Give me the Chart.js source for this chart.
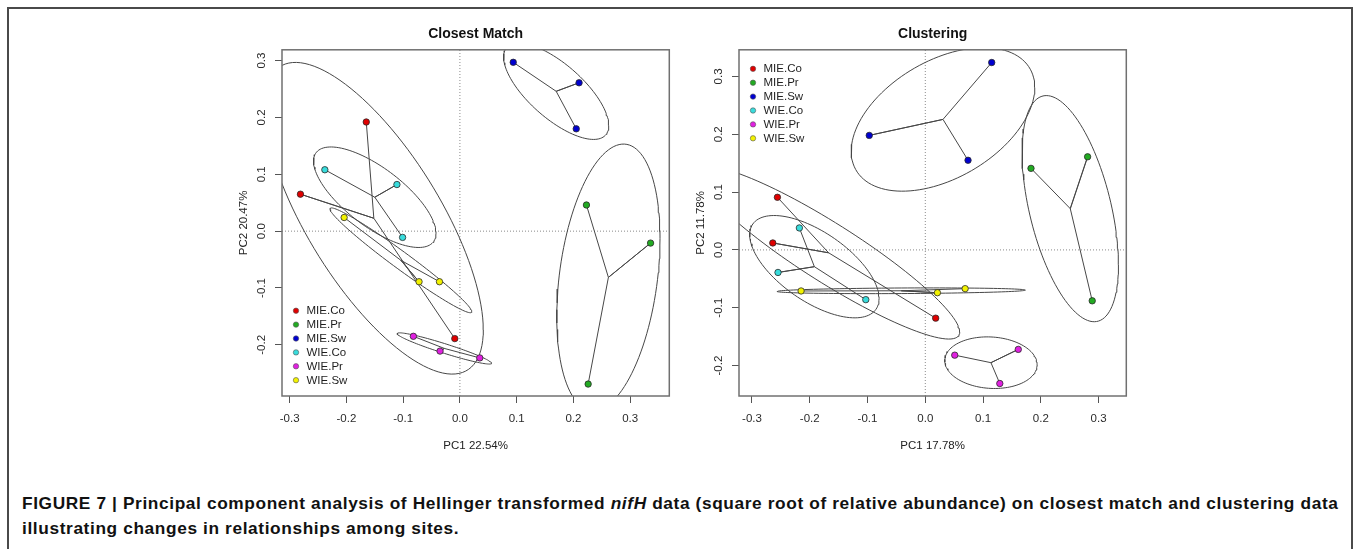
<!DOCTYPE html>
<html>
<head>
<meta charset="utf-8">
<script src="https://cdn.jsdelivr.net/npm/chart.js@4.4.1/dist/chart.umd.min.js"></script>
<style>
  html, body { margin: 0; padding: 0; background: #fff; }
  body { width: 1356px; height: 549px; position: relative; overflow: hidden; font-family: "Liberation Sans", Arial, sans-serif; }
  #frame { position: absolute; left: 7px; top: 7px; width: 1342px; height: 600px; border: 2px solid #4a4a4a; }
  .panel { position: absolute; top: 0; }
  #caption { position: absolute; left: 22px; top: 491px; font-size: 17.3px; letter-spacing: 0.62px; line-height: 25px; font-weight: bold; color: #111; white-space: nowrap; }
</style>
</head>
<body>
<div id="frame"></div>
<canvas id="closestChart" class="panel" style="left:200px" width="490" height="470"></canvas>
<canvas id="clusterChart" class="panel" style="left:657px" width="490" height="470"></canvas>
<div id="caption">FIGURE 7 | Principal component analysis of Hellinger transformed <i>nifH</i> data (square root of relative abundance) on closest match and clustering data<br>illustrating changes in relationships among sites.</div>

<script>
// sites grouped by habitat, three replicates each
const groups = ['MIE.Co', 'MIE.Pr', 'MIE.Sw', 'WIE.Co', 'WIE.Pr', 'WIE.Sw'];
const groupColors = ['#e00000', '#22aa22', '#0000d0', '#38dcdc', '#e020e0', '#f2f200'];

// Closest Match ordination scores
const closestPC1 = [
    [-0.165, -0.281, -0.009],
    [0.223, 0.336, 0.226],
    [0.094, 0.210, 0.205],
    [-0.238, -0.111, -0.101],
    [-0.082, -0.035, 0.035],
    [-0.204, -0.072, -0.036]
];
const closestPC2 = [
    [0.192, 0.065, -0.189],
    [0.046, -0.021, -0.269],
    [0.297, 0.261, 0.180],
    [0.108, 0.082, -0.011],
    [-0.185, -0.211, -0.223],
    [0.024, -0.089, -0.089]
];

// Clustering ordination scores
const clusterPC1 = [
    [-0.256, -0.264, 0.018],
    [0.183, 0.281, 0.289],
    [0.115, -0.097, 0.074],
    [-0.218, -0.255, -0.103],
    [0.051, 0.161, 0.129],
    [-0.215, 0.021, 0.069]
];
const clusterPC2 = [
    [0.091, 0.012, -0.118],
    [0.141, 0.161, -0.088],
    [0.324, 0.198, 0.155],
    [0.038, -0.039, -0.086],
    [-0.182, -0.172, -0.231],
    [-0.071, -0.074, -0.067]
];

const xTicks = [-0.3, -0.2, -0.1, 0.0, 0.1, 0.2, 0.3];
const closestYTicks = [-0.2, -0.1, 0.0, 0.1, 0.2, 0.3];
const clusterYTicks = [-0.2, -0.1, 0.0, 0.1, 0.2, 0.3];

const CHI2_95 = 5.991; // 95% quantile, chi-square with 2 df
const lineGray = '#474747';

function mean(a) {
    return a.reduce((s, v) => s + v, 0) / a.length;
}

// standard error ellipse (95%) of one group, like vegan::ordiellipse(kind = "se", conf = 0.95)
function seEllipse(xs, ys) {
    const n = xs.length;
    const mx = mean(xs), my = mean(ys);
    let sxx = 0, syy = 0, sxy = 0;
    for (let i = 0; i < n; i++) {
        sxx += (xs[i] - mx) * (xs[i] - mx);
        syy += (ys[i] - my) * (ys[i] - my);
        sxy += (xs[i] - mx) * (ys[i] - my);
    }
    sxx /= (n - 1); syy /= (n - 1); sxy /= (n - 1);
    const k = Math.sqrt(CHI2_95 / n);
    const l11 = Math.sqrt(sxx);
    const l21 = sxy / l11;
    const l22 = Math.sqrt(Math.max(syy - l21 * l21, 0));
    const out = [];
    for (let t = 0; t <= 120; t++) {
        const a = t / 120 * 2 * Math.PI;
        const u = Math.cos(a), v = Math.sin(a);
        out.push({ x: mx + k * l11 * u, y: my + k * (l21 * u + l22 * v) });
    }
    return out;
}

function buildDatasets(pc1, pc2, xr, yr) {
    const ds = [];
    groups.forEach((g, i) => {
        const pts = pc1[i].map((x, j) => ({ x: x, y: pc2[i][j] }));
        const c = { x: mean(pc1[i]), y: mean(pc2[i]) };
        const spider = [];
        pts.forEach((p, j) => {
            if (j > 0) spider.push(c);
            spider.push(p);
        });
        ds.push({
            label: g, data: pts, order: 0,
            pointRadius: 3.2, pointBackgroundColor: groupColors[i],
            pointBorderColor: '#2a2a2a', pointBorderWidth: 0.8
        });
        ds.push({
            label: g + ' spider', data: spider, order: 1, showLine: true, clip: 0,
            borderColor: lineGray, borderWidth: 1, pointRadius: 0, fill: false
        });
        ds.push({
            label: g + ' ellipse', data: seEllipse(pc1[i], pc2[i]), order: 2, showLine: true, clip: 0,
            borderColor: lineGray, borderWidth: 1, pointRadius: 0, fill: false
        });
    });
    // dotted reference lines through the origin
    ds.push({
        label: 'h0', data: [{ x: xr[0], y: 0 }, { x: xr[1], y: 0 }], order: 3, showLine: true, clip: 0,
        borderColor: '#8a8a8a', borderWidth: 1, borderDash: [1, 2], pointRadius: 0
    });
    ds.push({
        label: 'v0', data: [{ x: 0, y: yr[0] }, { x: 0, y: yr[1] }], order: 3, showLine: true, clip: 0,
        borderColor: '#8a8a8a', borderWidth: 1, borderDash: [1, 2], pointRadius: 0
    });
    return ds;
}

// box round the plot region, R style
const plotBox = {
    id: 'plotBox',
    afterDraw(chart) {
        const { ctx, chartArea: a } = chart;
        ctx.save();
        ctx.strokeStyle = '#707070';
        ctx.lineWidth = 1.5;
        ctx.strokeRect(a.left, a.top, a.right - a.left, a.bottom - a.top);
        ctx.restore();
    }
};

// y tick labels written upwards, as R does
const uprightYTicks = {
    id: 'uprightYTicks',
    afterDraw(chart) {
        const { ctx, chartArea: a } = chart;
        const ys = chart.scales.y;
        ctx.save();
        ctx.font = '11.5px "Liberation Sans", Arial, sans-serif';
        ctx.fillStyle = '#2b2b2b';
        ctx.textAlign = 'center';
        ctx.textBaseline = 'middle';
        ys.ticks.forEach(t => {
            const py = ys.getPixelForValue(t.value);
            ctx.save();
            ctx.translate(a.left - 20, py);
            ctx.rotate(-Math.PI / 2);
            ctx.fillText(t.value.toFixed(1), 0, 0);
            ctx.restore();
        });
        ctx.restore();
    }
};

const insetLegend = {
    id: 'insetLegend',
    afterDraw(chart, args, opts) {
        const { ctx, chartArea: a } = chart;
        const step = 13.9;
        const y0 = opts.corner === 'bottomleft' ? a.bottom - 85.3 : a.top + 19;
        ctx.save();
        ctx.font = '11.5px "Liberation Sans", Arial, sans-serif';
        ctx.textBaseline = 'middle';
        ctx.textAlign = 'left';
        groups.forEach((g, i) => {
            const y = y0 + i * step;
            ctx.beginPath();
            ctx.arc(a.left + 14, y, 2.7, 0, 2 * Math.PI);
            ctx.fillStyle = groupColors[i];
            ctx.fill();
            ctx.lineWidth = 0.6;
            ctx.strokeStyle = '#555';
            ctx.stroke();
            ctx.fillStyle = '#1e1e1e';
            ctx.fillText(g, a.left + 24.5, y + 0.5);
        });
        ctx.restore();
    }
};

function makeChart(id, title, pc1, pc2, xr, yr, yTicks, xLabel, yLabel, corner) {
    const el = document.getElementById(id);
    return new Chart(el.getContext('2d'), {
        type: 'scatter',
        data: { datasets: buildDatasets(pc1, pc2, xr, yr) },
        options: {
            responsive: false,
            animation: false,
            devicePixelRatio: 1,
            events: [],
            layout: { padding: { left: 0, right: 20.7, top: 0, bottom: 0 } },
            plugins: {
                legend: { display: false },
                tooltip: { enabled: false },
                title: {
                    display: true,
                    text: title,
                    fullSize: false,
                    color: '#111',
                    font: { family: '"Liberation Sans", Arial, sans-serif', size: 14, weight: 'bold', lineHeight: 1.2 },
                    padding: { top: 26, bottom: 7 }
                },
                insetLegend: { corner: corner }
            },
            scales: {
                x: {
                    type: 'linear',
                    min: xr[0], max: xr[1],
                    afterBuildTicks: s => { s.ticks = xTicks.map(v => ({ value: v })); },
                    afterFit: s => { s.height = 74; },
                    border: { display: false },
                    grid: { display: true, drawOnChartArea: false, drawTicks: true, tickLength: 7, tickColor: '#555', color: '#555' },
                    ticks: {
                        color: '#2b2b2b', padding: 9,
                        font: { family: '"Liberation Sans", Arial, sans-serif', size: 11.5 },
                        callback: v => Number(v).toFixed(1)
                    },
                    title: {
                        display: true, text: xLabel, color: '#222',
                        font: { family: '"Liberation Sans", Arial, sans-serif', size: 11.5 },
                        padding: { top: 0, bottom: 17 }
                    }
                },
                y: {
                    type: 'linear',
                    min: yr[0], max: yr[1],
                    afterBuildTicks: s => { s.ticks = yTicks.map(v => ({ value: v })); },
                    afterFit: s => { s.width = 82; },
                    border: { display: false },
                    grid: { display: true, drawOnChartArea: false, drawTicks: true, tickLength: 7, tickColor: '#555', color: '#555' },
                    ticks: { display: false },
                    title: {
                        display: true, text: yLabel, color: '#222',
                        font: { family: '"Liberation Sans", Arial, sans-serif', size: 11.5 },
                        padding: { top: 37, bottom: 0 }
                    }
                }
            }
        },
        plugins: [plotBox, uprightYTicks, insetLegend]
    });
}

makeChart('closestChart', 'Closest Match', closestPC1, closestPC2,
    [-0.3135, 0.369], [-0.290, 0.319], closestYTicks, 'PC1 22.54%', 'PC2 20.47%', 'bottomleft');
makeChart('clusterChart', 'Clustering', clusterPC1, clusterPC2,
    [-0.3225, 0.348], [-0.2526, 0.346], clusterYTicks, 'PC1 17.78%', 'PC2 11.78%', 'topleft');
</script>
</body>
</html>
